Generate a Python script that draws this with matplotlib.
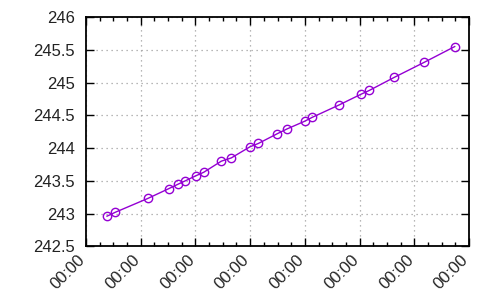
import matplotlib
matplotlib.use("Agg")
import matplotlib.pyplot as plt
import matplotlib.dates as mdates
import pandas as pd

plt.rcParams['font.family'] = ['Liberation Sans', 'DejaVu Sans']

times = ["2024-01-01 09:13", "2024-01-01 12:52", "2024-01-02 03:04", "2024-01-02 12:17",
         "2024-01-02 16:29", "2024-01-02 19:34", "2024-01-03 00:23", "2024-01-03 03:37",
         "2024-01-03 11:21", "2024-01-03 15:45", "2024-01-03 23:57", "2024-01-04 03:35",
         "2024-01-04 11:56", "2024-01-04 16:02", "2024-01-04 23:56", "2024-01-05 03:16",
         "2024-01-05 15:07", "2024-01-06 00:30", "2024-01-06 04:16", "2024-01-06 15:14",
         "2024-01-07 04:23", "2024-01-07 17:44"]
values = [242.96, 243.02, 243.23, 243.38, 243.45, 243.50, 243.58, 243.63, 243.80, 243.85,
          244.02, 244.07, 244.22, 244.29, 244.41, 244.47, 244.66, 244.82, 244.88, 245.08,
          245.31, 245.55]
x_start = "2024-01-01 00:00"
x_end = "2024-01-08 00:00"
y_ticks = [242.5, 243, 243.5, 244, 244.5, 245, 245.5, 246]
y_ticklabels = ["242.5", "243", "243.5", "244", "244.5", "245", "245.5", "246"]

t = pd.to_datetime(times)

fig = plt.figure(figsize=(5, 3), dpi=100)
ax = fig.add_axes([0.172, 0.179, 0.766, 0.764])

ax.plot(t, values, color='#9400d3', linewidth=1, marker='o', markersize=6,
        markerfacecolor='none', markeredgecolor='#9400d3', markeredgewidth=1)

ax.set_xlim(pd.Timestamp(x_start), pd.Timestamp(x_end))
ax.set_ylim(242.5, 246)
ax.set_yticks(y_ticks)
ax.set_yticklabels(y_ticklabels)

ax.xaxis.set_major_locator(mdates.DayLocator())
ax.xaxis.set_minor_locator(mdates.HourLocator(byhour=[6, 12, 18]))
ax.xaxis.set_major_formatter(mdates.DateFormatter('%H:%M'))

ax.grid(True, which='major', linestyle=(0, (1, 3)), color='#a0a0a0', linewidth=0.9)
ax.tick_params(axis='both', which='major', direction='in', length=6, width=1,
               top=True, right=True, labelsize=12, colors='black', labelcolor='#222222')
ax.tick_params(axis='x', which='minor', direction='in', length=3, width=1, top=True)
ax.tick_params(axis='y', which='major', pad=8)
ax.tick_params(axis='x', which='major', pad=10)

for lab in ax.get_xticklabels():
    lab.set_rotation(45)
    lab.set_ha('right')
    lab.set_va('baseline')
    lab.set_rotation_mode('anchor')

for s in ax.spines.values():
    s.set_linewidth(1.3)

fig.savefig('out.png', dpi=100)
